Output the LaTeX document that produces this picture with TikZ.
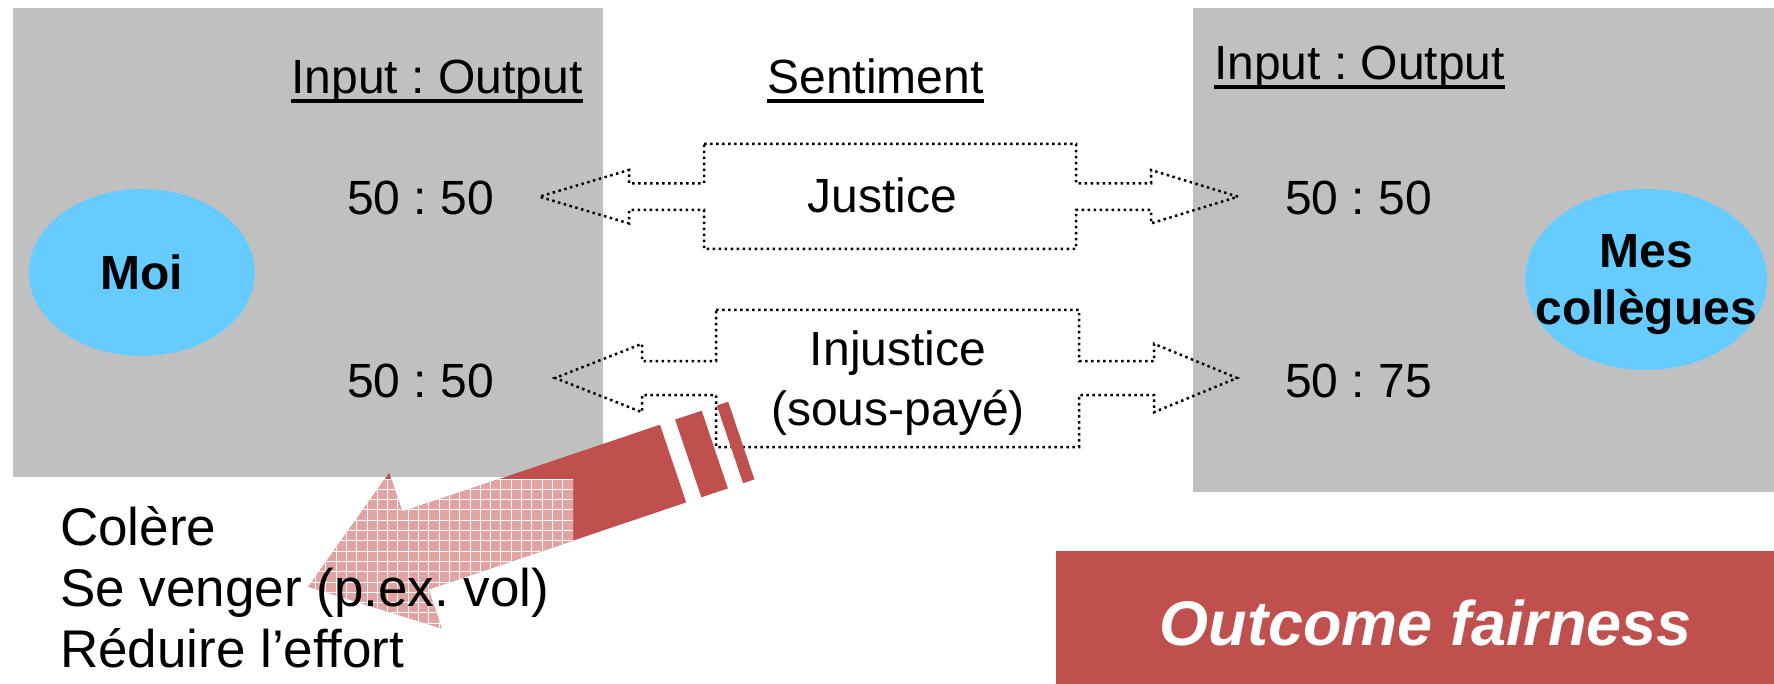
\documentclass[tikz,border=0pt]{standalone}
\usepackage{fontspec}
\setmainfont{Liberation Sans}
\usetikzlibrary{shapes}
\usetikzlibrary{positioning}
\definecolor{panelgrey}{RGB}{192,192,192}
\definecolor{personblue}{RGB}{102,204,255}
\definecolor{angerred}{RGB}{192,80,77}
\definecolor{angerpink}{RGB}{226,164,162}
\frenchspacing

\begin{document}
\begin{tikzpicture}[x=1pt,y=-1pt]
	\tikzstyle{person} = [ellipse, fill=personblue, inner sep=0pt]
	\tikzstyle{who} = [font=\bfseries\fontsize{48}{57}\selectfont, align=center, inner sep=0pt]
	\tikzstyle{txt} = [font=\fontsize{48}{60}\selectfont, inner sep=0pt]
	\tikzstyle{heading} = [txt, anchor=base]
	\tikzstyle{uline} = [line width=3.5pt]
	\tikzstyle{callout} = [draw=black, line width=2.5pt, dash pattern=on 2.5pt off 3.5pt]
	\tikzstyle{fairbox} = [rectangle, fill=angerred, inner sep=0pt]
	\tikzstyle{fairtext} = [font=\bfseries\itshape\fontsize{63}{70}\selectfont, text=white, inner sep=0pt]
	\def\angerarrow{(308.3,586.7) -- (389.2,472.9) -- (402.3,511.7) -- (660.0,424.7) -- (686.2,502.4) -- (428.5,589.4) -- (441.6,628.3) -- cycle}
	\useasboundingbox (0,0) rectangle (1774,684);
	% panels
	\fill[panelgrey] (13,8) rectangle (603,477);
	\fill[panelgrey] (1193,8) rectangle (1774,492);
	\node (moi)[person, who, minimum width=226pt, minimum height=167pt] at (141.8,272.5) {Moi};
	\node (colleagues)[person, minimum width=242pt, minimum height=181pt] at (1646,279.5) {};
	\node (colleaguestext)[who] at (1646,285) {Mes\\coll\`egues};
	% headings
	\node (ioleft)[heading] at (437,94) {Input : Output};
	\node (sentiment)[heading] at (875.5,94) {Sentiment};
	\node (ioright)[heading] at (1359.5,80) {Input : Output};
	\draw[uline] ([yshift=-7pt]ioleft.base west) -- ([yshift=-7pt]ioleft.base east);
	\draw[uline] ([yshift=-7pt]sentiment.base west) -- ([yshift=-7pt]sentiment.base east);
	\draw[uline] ([yshift=-7pt]ioright.base west) -- ([yshift=-7pt]ioright.base east);
	% ratios
	\node (meequal)[heading] at (420.5,215) {50 : 50};
	\node (meunequal)[heading] at (420.5,397) {50 : 50};
	\node (themequal)[heading] at (1358.5,215) {50 : 50};
	\node (themunequal)[heading] at (1358.5,397) {50 : 75};
	% callouts
	\draw[callout] (704,144) -- (1076,144) -- (1076,183.3) -- (1151,183.3) -- (1151,170) -- (1238,196.7) -- (1151,223.4) -- (1151,210) -- (1076,210) -- (1076,249) -- (704,249) -- (704,210) -- (629,210) -- (629,223.4) -- (539.3,196.7) -- (629,170) -- (629,183.3) -- (704,183.3) -- cycle;
	\draw[callout] (716,310) -- (1079,310) -- (1079,361) -- (1154,361) -- (1154,343.8) -- (1237,378) -- (1154,412.2) -- (1154,395) -- (1079,395) -- (1079,447) -- (716,447) -- (716,395) -- (642,395) -- (642,412.2) -- (555,378) -- (642,343.8) -- (642,361) -- (716,361) -- cycle;
	\node (justice)[heading] at (882,213) {Justice};
	\node (injustice)[txt, align=center, anchor=base] at (898,425) {Injustice\\(sous-pay\'e)};
	% striped arrow
	\fill[angerred] \angerarrow;
	\fill[angerred] (675.1,419.6) -- (701.7,410.7) -- (727.9,488.4) -- (701.4,497.3) -- cycle;
	\fill[angerred] (716.8,405.5) -- (728.2,401.7) -- (754.4,479.4) -- (743.1,483.2) -- cycle;
	\begin{scope}
		\clip (50,479) rectangle (573,684);
		\clip \angerarrow;
		\fill[angerpink] (50,479) rectangle (573,684);
		\foreach \g in {0,...,50} {
			\draw[white, line width=0.9pt] ({573-10.3*\g},479) -- ({573-10.3*\g},684);
		}
		\foreach \g in {0,...,20} {
			\draw[white, line width=0.9pt] (50,{479+10.3*\g}) -- (573,{479+10.3*\g});
		}
	\end{scope}
	\node (reactions)[txt, font=\fontsize{53}{61}\selectfont, align=left, anchor=base west] at (60,667) {Col\`ere\\Se venger (p.ex. vol)\\R\'eduire l’effort};
	% label
	\node (fairness)[fairbox, minimum width=718pt, minimum height=133pt] at (1415,617.5) {};
	\node (fairnesstext)[fairtext, anchor=base] at (1426,645) {Outcome fairness};
\end{tikzpicture}
\end{document}
